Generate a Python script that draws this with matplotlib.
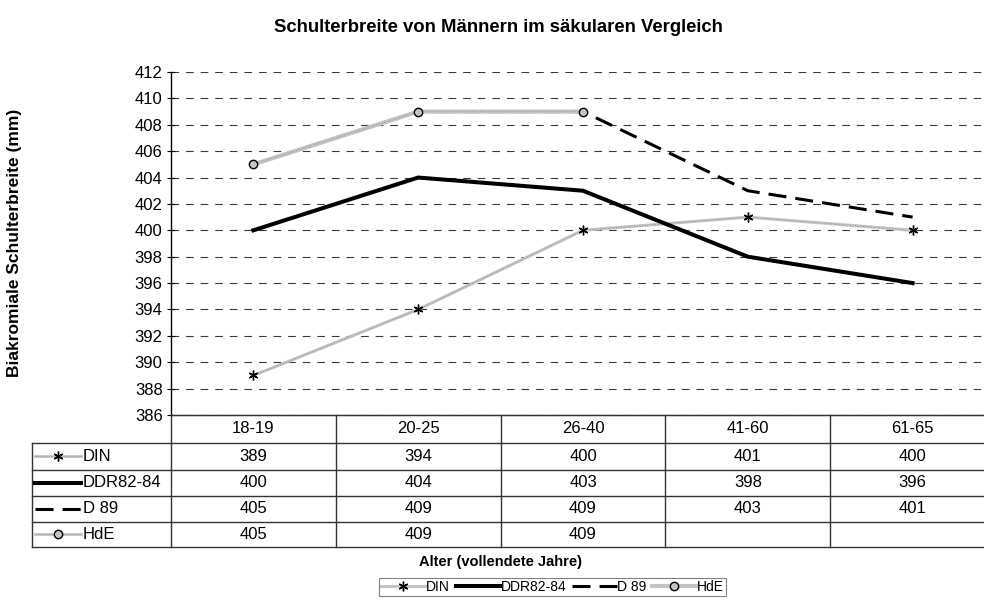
import matplotlib
matplotlib.use("Agg")
import matplotlib.pyplot as plt
from matplotlib.lines import Line2D
import numpy as np

plt.rcParams['font.family'] = ['Liberation Sans', 'DejaVu Sans']
plt.rcParams['lines.scale_dashes'] = False

# daten
groups = ['18-19', '20-25', '26-40', '41-60', '61-65']
din = [389, 394, 400, 401, 400]
ddr = [400, 404, 403, 398, 396]
d89 = [405, 409, 409, 403, 401]
hde = [405, 409, 409, np.nan, np.nan]
names = ['DIN', 'DDR82-84', 'D 89', 'HdE']

W, H = 984, 606
fig = plt.figure(figsize=(W / 100, H / 100), dpi=100)

# plotflaeche in pixeln
L, R, T, B = 171, 995, 72, 415
ax = fig.add_axes([L / W, 1 - B / H, (R - L) / W, (B - T) / H])
ax.set_xlim(-0.5, 4.5)
ax.set_ylim(386, 412)
ax.set_yticks(np.arange(386, 413, 2))
ax.set_xticks([])
ax.yaxis.grid(True, color='#3a3a3a', lw=0.8, linestyle=(0, (5.5, 5)))
ax.set_axisbelow(True)
for s in ['top', 'right']:
    ax.spines[s].set_visible(False)
ax.spines['left'].set_color('k')
ax.spines['left'].set_linewidth(1)
ax.spines['bottom'].set_color('#333333')
ax.tick_params(axis='y', direction='inout', length=6, width=0.8, labelsize=12, pad=3)

GRAU = '#c4c4c4'
TEXTUR = '#959595'
x = np.arange(len(groups))

# DIN
ax.plot(x, din, color=GRAU, lw=2.2, zorder=3)
ax.plot(x, din, color=TEXTUR, lw=0.7, linestyle=(0, (0.7, 1.2)), zorder=3.1)
ax.plot(x, din, ls='none', marker=(6, 2, 0), ms=7, mec='k', mew=1, zorder=3.2)
# DDR82-84
ax.plot(x, ddr, color='k', lw=2.9, zorder=4)
# D 89
ax.plot(x, d89, color='k', lw=2.2, linestyle=(0, (13, 6.5)), zorder=5)
# HdE
ax.plot(x, hde, color=GRAU, lw=3.0, zorder=6)
ax.plot(x, hde, color=TEXTUR, lw=0.7, linestyle=(0, (0.7, 1.2)), zorder=6.1)
ax.plot(x, hde, ls='none', marker='o', ms=6, mfc='#c4c4c4', mec='k', mew=1, zorder=6.2)

# legendensymbole
h_din = Line2D([], [], color=GRAU, lw=2.2, marker=(6, 2, 0), ms=7, mec='k', mew=1)
h_ddr = Line2D([], [], color='k', lw=2.9)
h_d89 = Line2D([], [], color='k', lw=2.2, linestyle=(0, (13, 6.5)))
h_hde = Line2D([], [], color=GRAU, lw=3.0, marker='o', ms=6, mfc='#c4c4c4', mec='k', mew=1)
handles = [h_din, h_ddr, h_d89, h_hde]

# datentabelle
TL, TB = 32, 547
rows = [415, 443, 470, 496, 522, 547]
tab = fig.add_axes([TL / W, 1 - TB / H, (R - TL) / W, (TB - B) / H])
step = (R - L) / 5.0
def px2x(p):
    return -0.5 + (p - L) / step
tab.set_xlim(px2x(TL), 4.5)
tab.set_ylim(TB, B)
tab.axis('off')
lc = '#333333'
tab.plot([-0.5, 4.5], [rows[0], rows[0]], color=lc, lw=1, clip_on=False)
for r in rows[1:]:
    tab.plot([px2x(TL), 4.5], [r, r], color=lc, lw=1, clip_on=False)
tab.plot([px2x(TL + 0.5)] * 2, [rows[1], rows[-1]], color=lc, lw=1, clip_on=False)
for c in np.arange(-0.5, 4.0, 1.0):
    tab.plot([c, c], [rows[0], rows[-1]], color=lc, lw=1, clip_on=False)

for i, g in enumerate(groups):
    tab.text(i, (rows[0] + rows[1]) / 2, g, ha='center', va='center', fontsize=12)

series = [din, ddr, d89, hde]
for k, (nm, vals, h) in enumerate(zip(names, series, handles)):
    yc = (rows[k + 1] + rows[k + 2]) / 2
    kx = [px2x(35), px2x(81)]
    lw_key = h.get_linewidth() if nm in ('DDR82-84', 'D 89') else 2.0
    tab.plot(kx, [yc, yc], color=h.get_color(), lw=lw_key,
             linestyle=(0, (13, 6.5)) if nm == 'D 89' else '-', clip_on=False)
    if nm in ('DIN', 'HdE'):
        tab.plot(kx, [yc, yc], color=TEXTUR, lw=0.7, linestyle=(0, (0.7, 1.2)), clip_on=False)
        tab.plot([px2x(58)], [yc], ls='none', marker=h.get_marker(), ms=h.get_markersize(),
                 mfc=h.get_markerfacecolor(), mec='k', mew=1, clip_on=False)
    tab.text(px2x(83), yc, nm, ha='left', va='center', fontsize=12)
    for i, v in enumerate(vals):
        if not np.isnan(v):
            tab.text(i, yc, f'{int(v)}', ha='center', va='center', fontsize=12)

# texte
fig.text(498 / W, 1 - 27 / H, 'Schulterbreite von Männern im säkularen Vergleich',
         ha='center', va='center', fontsize=13.3, weight='bold')
fig.text(15 / W, 1 - 243 / H, 'Biakromiale Schulterbreite (mm)', rotation=90,
         ha='center', va='center', fontsize=12.5, weight='bold')
fig.text(500 / W, 1 - 562 / H, 'Alter (vollendete Jahre)', ha='center', va='center',
         fontsize=10.5, weight='bold')

leg = fig.legend(handles, names, loc='upper left', bbox_to_anchor=(379 / W, 1 - 578 / H),
                 ncol=4, frameon=True, fancybox=False, edgecolor='#808080', framealpha=1,
                 handlelength=3.2, handletextpad=0.05, columnspacing=0.4, borderpad=0.15,
                 borderaxespad=0, fontsize=10)
leg.get_frame().set_linewidth(0.8)

fig.savefig('out.png', dpi=100)
